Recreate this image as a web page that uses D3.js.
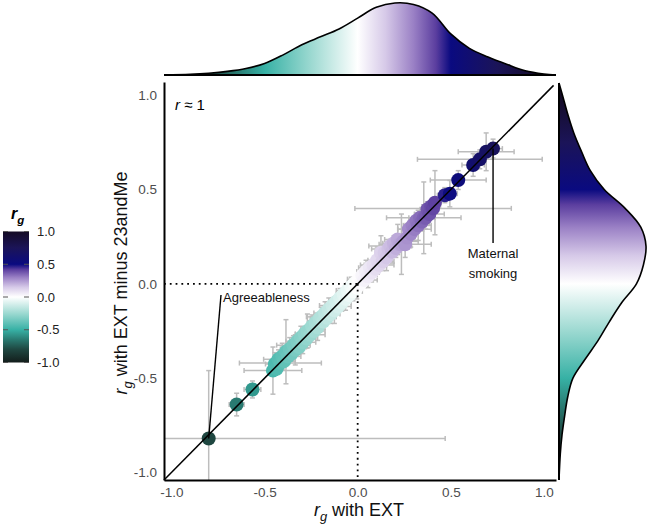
<!DOCTYPE html>
<html><head><meta charset="utf-8">
<script src="https://cdn.jsdelivr.net/npm/d3@7"></script>
<style>body{margin:0;background:#fff} svg{display:block;font-family:"Liberation Sans",Arial,Helvetica,sans-serif}</style>
</head><body><svg id="c" width="648" height="526"></svg>
<script>
// rg with EXT (x), rg with EXT minus 23andMe (y), and their error half-widths
const ext = [
 -0.80,-0.65,-0.565,-0.455,-0.445,-0.435,-0.425,-0.415,-0.405,-0.395,
 -0.385,-0.375,-0.365,-0.355,-0.345,-0.335,-0.325,-0.315,-0.305,-0.295,
 -0.285,-0.275,-0.27,-0.255,-0.245,-0.235,-0.225,-0.215,-0.205,-0.195,
 -0.185,-0.175,-0.165,-0.155,-0.145,-0.135,-0.125,-0.115,-0.105,-0.095,
 -0.085,-0.075,-0.065,-0.055,-0.045,-0.035,-0.025,-0.015,-0.005,0.005,
 0.015,0.025,0.035,0.045,0.055,0.065,0.075,0.085,0.095,0.105,
 0.115,0.125,0.135,0.145,0.155,0.165,0.175,0.185,0.195,0.205,
 0.215,0.225,0.235,0.245,0.255,0.265,0.275,0.285,0.295,0.305,
 0.315,0.325,0.335,0.345,0.355,0.365,0.375,0.385,0.395,0.405,
 0.415,0.468,0.495,0.54,0.62,0.656,0.69,0.727];
const extMinus = [
 -0.82,-0.64,-0.56,-0.46,-0.425,-0.45,-0.40,-0.42,-0.385,-0.41,
 -0.36,-0.385,-0.345,-0.37,-0.325,-0.35,-0.305,-0.335,-0.285,-0.31,
 -0.265,-0.29,-0.25,-0.27,-0.225,-0.25,-0.205,-0.23,-0.185,-0.175,
 -0.20,-0.155,-0.18,-0.135,-0.16,-0.115,-0.14,-0.095,-0.12,-0.075,
 -0.10,-0.055,-0.08,-0.035,-0.06,-0.015,-0.04,0.005,-0.02,0.025,
 0.0,0.045,0.02,0.065,0.04,0.085,0.06,0.10,0.08,0.125,
 0.10,0.165,0.12,0.165,0.14,0.185,0.20,0.17,0.215,0.19,
 0.235,0.21,0.21,0.225,0.21,0.245,0.29,0.265,0.31,0.29,
 0.335,0.31,0.35,0.33,0.35,0.35,0.395,0.37,0.41,0.40,
 0.43,0.47,0.478,0.55,0.63,0.66,0.70,0.717];
const extErr = [
 1.27,0.04,0.045,0.155,0.05,0.03,0.08,0.22,0.03,0.06,
 0.03,0.07,0.05,0.03,0.09,0.03,0.06,0.04,0.03,0.07,
 0.05,0.05,0.03,0.08,0.03,0.06,0.04,0.03,0.05,0.08,
 0.03,0.06,0.04,0.03,0.05,0.07,0.03,0.04,0.07,0.03,
 0.05,0.04,0.03,0.06,0.04,0.03,0.05,0.04,0.03,0.06,
 0.04,0.03,0.07,0.05,0.03,0.06,0.04,0.07,0.03,0.05,
 0.08,0.03,0.06,0.05,0.03,0.09,0.115,0.03,0.06,0.04,
 0.07,0.05,0.03,0.08,0.14,0.04,0.06,0.03,0.05,0.09,
 0.04,0.07,0.06,0.03,0.20,0.05,0.04,0.08,0.05,0.42,
 0.03,0.04,0.04,0.15,0.06,0.335,0.15,0.05];
const minusErr = [
 0.36,0.06,0.045,0.125,0.06,0.03,0.05,0.04,0.07,0.03,
 0.17,0.04,0.06,0.03,0.05,0.08,0.03,0.04,0.06,0.06,
 0.03,0.05,0.09,0.03,0.06,0.04,0.03,0.07,0.03,0.05,
 0.04,0.06,0.03,0.06,0.05,0.04,0.07,0.03,0.02,0.05,
 0.045,0.03,0.06,0.04,0.03,0.05,0.05,0.03,0.06,0.04,
 0.03,0.05,0.04,0.06,0.06,0.03,0.05,0.03,0.04,0.07,
 0.03,0.09,0.05,0.04,0.07,0.03,0.03,0.06,0.04,0.05,
 0.08,0.03,0.16,0.04,0.07,0.05,0.03,0.07,0.04,0.06,
 0.04,0.08,0.03,0.05,0.19,0.06,0.04,0.06,0.03,0.04,
 0.17,0.04,0.07,0.05,0.06,0.05,0.10,0.05];

// colour scale for rg
const colorStops = [-1, -0.8, -0.65, -0.5, -0.25, 0, 0.15, 0.3, 0.42, 0.5, 0.75, 1];
const colorValues = ["#131d1b","#1f4741","#297a71","#37b1a5","#9cd9d1","#ffffff","#d6c9e8","#9a80c5","#5b3e9f","#0a0a80","#1b1458","#140b24"];

// marginal densities (relative height) on a grid of rg values
const densGrid  = [-1.04,-0.9,-0.8,-0.7,-0.6,-0.5,-0.4,-0.3,-0.2,-0.1,0,0.1,0.2,0.3,0.4,0.5,0.6,0.7,0.8,0.9,1.0,1.065];
const densTop   = [0,0.01,0.025,0.05,0.09,0.16,0.28,0.42,0.53,0.64,0.79,0.94,1.0,0.98,0.86,0.57,0.37,0.25,0.15,0.06,0.015,0];
const densRight = [0,0.015,0.035,0.065,0.1,0.16,0.3,0.45,0.58,0.72,0.89,0.97,1.0,0.94,0.76,0.52,0.36,0.26,0.17,0.1,0.04,0];

const axisTicks = [-1, -0.5, 0, 0.5, 1];
const legendTicks = [1, 0.5, 0, -0.5, -1];

const svg = d3.select("#c");
const x = d3.scaleLinear().domain([-1.04, 1.065]).range([164, 556]);
const y = d3.scaleLinear().domain([-1.04, 1.07]).range([480, 82]);
const color = d3.scaleLinear().domain(colorStops).range(colorValues).clamp(true);
const fmt = d => d.toFixed(1);

const defs = svg.append("defs");
function grad(id, x1, y1, x2, y2, scale) {
  const g = defs.append("linearGradient").attr("id", id).attr("gradientUnits", "userSpaceOnUse")
    .attr("x1", x1).attr("y1", y1).attr("x2", x2).attr("y2", y2);
  const [a, b] = scale.domain();
  colorStops.forEach((v, i) => {
    g.append("stop").attr("offset", Math.max(0, Math.min(1, (v - a) / (b - a)))).attr("stop-color", colorValues[i]);
  });
}
grad("gTop", x(-1.04), 0, x(1.065), 0, x);
grad("gRight", 0, y(-1.04), 0, y(1.07), y);
defs.append("clipPath").attr("id", "plotClip").append("rect")
  .attr("x", 164).attr("y", 82).attr("width", 392).attr("height", 398);

// top density
const hTop = d3.scaleLinear().domain([0, 1]).range([75, 3]);
const topPts = densGrid.map((g, i) => [g, densTop[i]]);
svg.append("path").datum(topPts)
  .attr("d", d3.area().x(d => x(d[0])).y0(75).y1(d => hTop(d[1])).curve(d3.curveCatmullRom))
  .attr("fill", "url(#gTop)");
svg.append("path").datum(topPts)
  .attr("d", d3.line().x(d => x(d[0])).y(d => hTop(d[1])).curve(d3.curveCatmullRom))
  .attr("fill", "none").attr("stroke", "#000").attr("stroke-width", 1.6);
svg.append("line").attr("x1", x(-1.04)).attr("x2", x(1.065)).attr("y1", 75).attr("y2", 75)
  .attr("stroke", "#000").attr("stroke-width", 2);

// right density
const wRight = d3.scaleLinear().domain([0, 1]).range([559, 646]);
const rightPts = densGrid.map((g, i) => [g, densRight[i]]);
svg.append("path").datum(rightPts)
  .attr("d", d3.area().y(d => y(d[0])).x0(559).x1(d => wRight(d[1])).curve(d3.curveCatmullRom))
  .attr("fill", "url(#gRight)");
svg.append("path").datum(rightPts)
  .attr("d", d3.line().y(d => y(d[0])).x(d => wRight(d[1])).curve(d3.curveCatmullRom))
  .attr("fill", "none").attr("stroke", "#000").attr("stroke-width", 1.6);
svg.append("line").attr("x1", 559).attr("x2", 559).attr("y1", y(1.065)).attr("y2", 480)
  .attr("stroke", "#000").attr("stroke-width", 2);

// error bars
const data = ext.map((v, i) => ({x: v, y: extMinus[i], xe: extErr[i], ye: minusErr[i]}));
const eb = svg.append("g").attr("clip-path", "url(#plotClip)")
  .attr("stroke", "#bdbdbd").attr("stroke-width", 1.5).attr("fill", "none");
data.forEach(d => {
  const xl = x(d.x - d.xe), xr = x(d.x + d.xe), yt = y(d.y + d.ye), yb = y(d.y - d.ye);
  eb.append("line").attr("x1", xl).attr("x2", xr).attr("y1", y(d.y)).attr("y2", y(d.y));
  eb.append("line").attr("x1", xl).attr("x2", xl).attr("y1", y(d.y) - 2.5).attr("y2", y(d.y) + 2.5);
  eb.append("line").attr("x1", xr).attr("x2", xr).attr("y1", y(d.y) - 2.5).attr("y2", y(d.y) + 2.5);
  eb.append("line").attr("x1", x(d.x)).attr("x2", x(d.x)).attr("y1", yt).attr("y2", yb);
  eb.append("line").attr("x1", x(d.x) - 2.5).attr("x2", x(d.x) + 2.5).attr("y1", yt).attr("y2", yt);
  eb.append("line").attr("x1", x(d.x) - 2.5).attr("x2", x(d.x) + 2.5).attr("y1", yb).attr("y2", yb);
});

// points
svg.append("g").selectAll("circle").data(data).join("circle")
  .attr("cx", d => x(d.x)).attr("cy", d => y(d.y)).attr("r", 7)
  .attr("fill", d => color(d.x));

// dotted reference lines
svg.append("line").attr("x1", x(-1.04)).attr("x2", x(0)).attr("y1", y(0)).attr("y2", y(0))
  .attr("stroke", "#000").attr("stroke-width", 1.8).attr("stroke-dasharray", "1.8,4");
svg.append("line").attr("x1", x(0)).attr("x2", x(0)).attr("y1", y(0)).attr("y2", 480)
  .attr("stroke", "#000").attr("stroke-width", 1.8).attr("stroke-dasharray", "1.8,4");

// identity line
svg.append("line").attr("x1", x(-1.04)).attr("y1", y(-1.04)).attr("x2", x(1.052)).attr("y2", y(1.052))
  .attr("stroke", "#000").attr("stroke-width", 1.5);

// annotations
const agr = data[0];
svg.append("line").attr("x1", x(agr.x)).attr("y1", y(agr.y)).attr("x2", 221).attr("y2", 295)
  .attr("stroke", "#000").attr("stroke-width", 1.4);
svg.append("text").attr("x", 223).attr("y", 302).attr("font-size", 13).attr("fill", "#111").text("Agreeableness");
const ms = data[data.length - 1];
svg.append("line").attr("x1", x(ms.x)).attr("y1", y(ms.y)).attr("x2", x(ms.x)).attr("y2", 243)
  .attr("stroke", "#000").attr("stroke-width", 1.4);
svg.append("text").attr("x", x(ms.x)).attr("y", 258).attr("text-anchor", "middle").attr("font-size", 13).attr("fill", "#111").text("Maternal");
svg.append("text").attr("x", x(ms.x)).attr("y", 278).attr("text-anchor", "middle").attr("font-size", 13).attr("fill", "#111").text("smoking");

const rt = svg.append("text").attr("x", 175).attr("y", 110).attr("font-size", 15).attr("fill", "#000");
rt.append("tspan").attr("font-style", "italic").text("r");
rt.append("tspan").text(" ≈ 1");

// axes
const ax = svg.append("g").attr("transform", "translate(0,480)")
  .call(d3.axisBottom(x).tickValues(axisTicks).tickFormat(fmt).tickSize(0).tickPadding(7));
const ay = svg.append("g").attr("transform", "translate(164,0)")
  .call(d3.axisLeft(y).tickValues(axisTicks).tickFormat(fmt).tickSize(0).tickPadding(7));
[ax, ay].forEach(a => {
  a.select(".domain").attr("stroke", "#000").attr("stroke-width", 2);
  a.selectAll("text").attr("font-size", 13.5).attr("fill", "#4d4d4d").attr("font-family", null);
});

function rgLabel(sel, rest, size) {
  sel.append("tspan").attr("font-style", "italic").text("r");
  sel.append("tspan").attr("font-style", "italic").attr("font-size", size * 0.72).attr("dy", size * 0.3).text("g");
  sel.append("tspan").attr("dy", -size * 0.3).text(rest);
}
const xt = svg.append("text").attr("x", 359).attr("y", 516).attr("text-anchor", "middle").attr("font-size", 18).attr("fill", "#111");
rgLabel(xt, " with EXT", 18);
const yt = svg.append("text").attr("transform", "translate(127,283) rotate(-90)").attr("text-anchor", "middle").attr("font-size", 18).attr("fill", "#111");
rgLabel(yt, " with EXT minus 23andMe", 18);

// colour legend
const yl = d3.scaleLinear().domain([-1, 1]).range([362.5, 231.5]);
grad("gLeg", 0, yl(-1), 0, yl(1), yl);
svg.append("rect").attr("x", 3).attr("y", yl(1)).attr("width", 26).attr("height", yl(-1) - yl(1)).attr("fill", "url(#gLeg)");
legendTicks.forEach(t => {
  svg.append("line").attr("x1", 3).attr("x2", 8).attr("y1", yl(t)).attr("y2", yl(t)).attr("stroke", "#555").attr("stroke-width", 1);
  svg.append("line").attr("x1", 24).attr("x2", 29).attr("y1", yl(t)).attr("y2", yl(t)).attr("stroke", "#555").attr("stroke-width", 1);
});
const al = svg.append("g").attr("transform", "translate(29,0)")
  .call(d3.axisRight(yl).tickValues(legendTicks).tickFormat(fmt).tickSize(0).tickPadding(8));
al.select(".domain").remove();
al.selectAll("text").attr("font-size", 13).attr("fill", "#222").attr("font-family", null);
const lt = svg.append("text").attr("x", 11).attr("y", 219).attr("font-size", 16).attr("font-weight", "bold").attr("fill", "#000");
rgLabel(lt, "", 16);
</script></body></html>
